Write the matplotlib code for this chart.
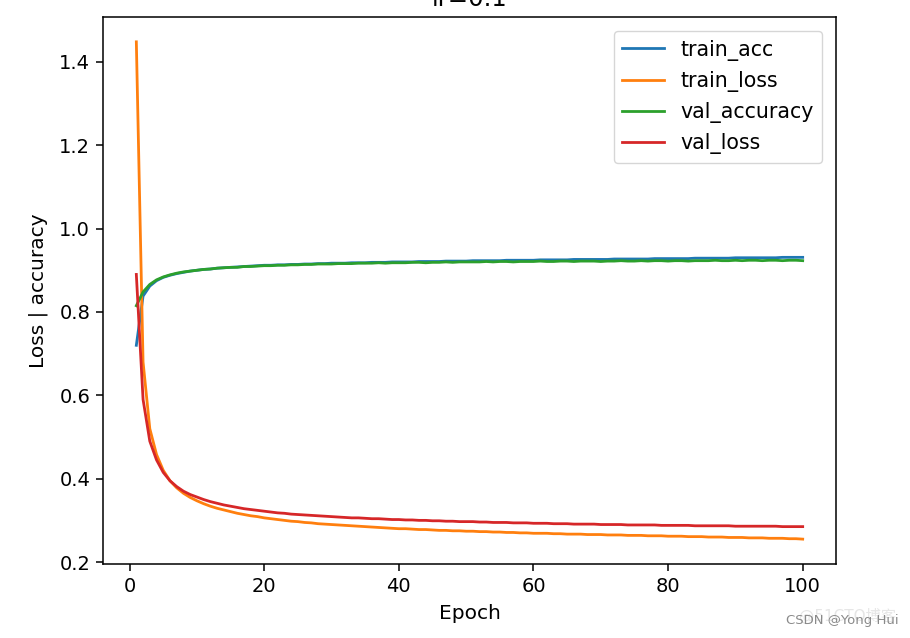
import numpy as np
import matplotlib
matplotlib.use('Agg')
import matplotlib.pyplot as plt

epochs = list(range(1, 101))

train_acc = [
    0.720, 0.838, 0.862, 0.875, 0.883, 0.888, 0.892, 0.895, 0.898, 0.900,
    0.902, 0.903, 0.905, 0.906, 0.907, 0.908, 0.909, 0.910, 0.911, 0.912,
    0.912, 0.913, 0.913, 0.914, 0.914, 0.915, 0.915, 0.916, 0.916, 0.917,
    0.917, 0.917, 0.918, 0.918, 0.918, 0.919, 0.919, 0.919, 0.920, 0.920,
    0.920, 0.920, 0.921, 0.921, 0.921, 0.921, 0.922, 0.922, 0.922, 0.922,
    0.923, 0.923, 0.923, 0.923, 0.923, 0.924, 0.924, 0.924, 0.924, 0.924,
    0.925, 0.925, 0.925, 0.925, 0.925, 0.926, 0.926, 0.926, 0.926, 0.926,
    0.926, 0.927, 0.927, 0.927, 0.927, 0.927, 0.927, 0.928, 0.928, 0.928,
    0.928, 0.928, 0.928, 0.929, 0.929, 0.929, 0.929, 0.929, 0.929, 0.930,
    0.930, 0.930, 0.930, 0.930, 0.930, 0.930, 0.931, 0.931, 0.931, 0.931,
]

train_loss = [
    1.448, 0.680, 0.520, 0.458, 0.420, 0.395, 0.378, 0.365, 0.355, 0.347,
    0.340, 0.334, 0.329, 0.325, 0.321, 0.317, 0.314, 0.311, 0.309, 0.306,
    0.304, 0.302, 0.300, 0.298, 0.297, 0.295, 0.294, 0.292, 0.291, 0.290,
    0.289, 0.288, 0.287, 0.286, 0.285, 0.284, 0.283, 0.282, 0.281, 0.280,
    0.280, 0.279, 0.278, 0.278, 0.277, 0.276, 0.276, 0.275, 0.275, 0.274,
    0.274, 0.273, 0.273, 0.272, 0.272, 0.271, 0.271, 0.270, 0.270, 0.269,
    0.269, 0.269, 0.268, 0.268, 0.267, 0.267, 0.267, 0.266, 0.266, 0.266,
    0.265, 0.265, 0.265, 0.264, 0.264, 0.264, 0.263, 0.263, 0.263, 0.262,
    0.262, 0.262, 0.261, 0.261, 0.261, 0.260, 0.260, 0.260, 0.259, 0.259,
    0.259, 0.258, 0.258, 0.258, 0.257, 0.257, 0.257, 0.256, 0.256, 0.255,
]

val_accuracy = [
    0.815, 0.848, 0.866, 0.877, 0.884, 0.889, 0.893, 0.896, 0.898, 0.900,
    0.902, 0.903, 0.905, 0.906, 0.907, 0.907, 0.909, 0.909, 0.910, 0.911,
    0.911, 0.912, 0.912, 0.913, 0.913, 0.914, 0.914, 0.915, 0.915, 0.915,
    0.916, 0.916, 0.916, 0.917, 0.917, 0.917, 0.918, 0.917, 0.918, 0.918,
    0.918, 0.919, 0.919, 0.918, 0.919, 0.919, 0.920, 0.919, 0.920, 0.920,
    0.920, 0.920, 0.921, 0.920, 0.921, 0.921, 0.920, 0.921, 0.921, 0.921,
    0.922, 0.921, 0.921, 0.922, 0.922, 0.921, 0.922, 0.922, 0.922, 0.921,
    0.922, 0.922, 0.923, 0.922, 0.922, 0.923, 0.922, 0.923, 0.923, 0.922,
    0.923, 0.923, 0.922, 0.923, 0.923, 0.923, 0.924, 0.923, 0.923, 0.924,
    0.923, 0.924, 0.924, 0.923, 0.924, 0.924, 0.923, 0.924, 0.924, 0.923,
]

val_loss = [
    0.890, 0.590, 0.490, 0.445, 0.415, 0.395, 0.381, 0.370, 0.362, 0.356,
    0.350, 0.345, 0.341, 0.337, 0.334, 0.331, 0.328, 0.326, 0.324, 0.322,
    0.320, 0.318, 0.317, 0.315, 0.314, 0.313, 0.312, 0.311, 0.310, 0.309,
    0.308, 0.307, 0.306, 0.306, 0.305, 0.304, 0.304, 0.303, 0.302, 0.302,
    0.301, 0.301, 0.300, 0.300, 0.299, 0.299, 0.298, 0.298, 0.297, 0.297,
    0.297, 0.296, 0.296, 0.295, 0.295, 0.295, 0.294, 0.294, 0.294, 0.293,
    0.293, 0.293, 0.292, 0.292, 0.292, 0.291, 0.291, 0.291, 0.291, 0.290,
    0.290, 0.290, 0.290, 0.289, 0.289, 0.289, 0.289, 0.289, 0.288, 0.288,
    0.288, 0.288, 0.288, 0.287, 0.287, 0.287, 0.287, 0.287, 0.287, 0.286,
    0.286, 0.286, 0.286, 0.286, 0.286, 0.286, 0.285, 0.285, 0.285, 0.285,
]

series = [
    ("train_acc", train_acc),
    ("train_loss", train_loss),
    ("val_accuracy", val_accuracy),
    ("val_loss", val_loss),
]

plt.rcParams['font.family'] = ['DejaVu Sans', 'Noto Sans CJK SC']
plt.rcParams['font.size'] = 14.5

fig, ax = plt.subplots(figsize=(9.1, 6.38), dpi=100)
fig.subplots_adjust(left=0.1132, right=0.9187, top=0.9734, bottom=0.116)

for name, vals in series:
    ax.plot(epochs, vals, label=name, linewidth=2.0)

ax.set_title("lr=0.1", fontsize=17.5, pad=8)
ax.set_xlabel("Epoch", fontsize=14.5, labelpad=6)
ax.set_ylabel("Loss | accuracy", fontsize=14.5, labelpad=8)
ax.set_yticks([0.2, 0.4, 0.6, 0.8, 1.0, 1.2, 1.4])
ax.tick_params(labelsize=14, length=4.7, width=1.1, pad=4.5)
for sp in ax.spines.values():
    sp.set_linewidth(1.1)

ax.legend(loc="upper right", fontsize=14.8, handlelength=2.0,
          borderaxespad=0.7)

# watermark in the bottom right corner
fig.text(0.987, 0.018, "CSDN @Yong Hui", ha="right", va="bottom",
         fontsize=9.5, color="#8a8a8a")
fig.text(0.985, 0.022, "@51CTO博客", ha="right", va="bottom",
         fontsize=11, color="#e6e6e6", zorder=0)

fig.savefig("out.png", dpi=100)
